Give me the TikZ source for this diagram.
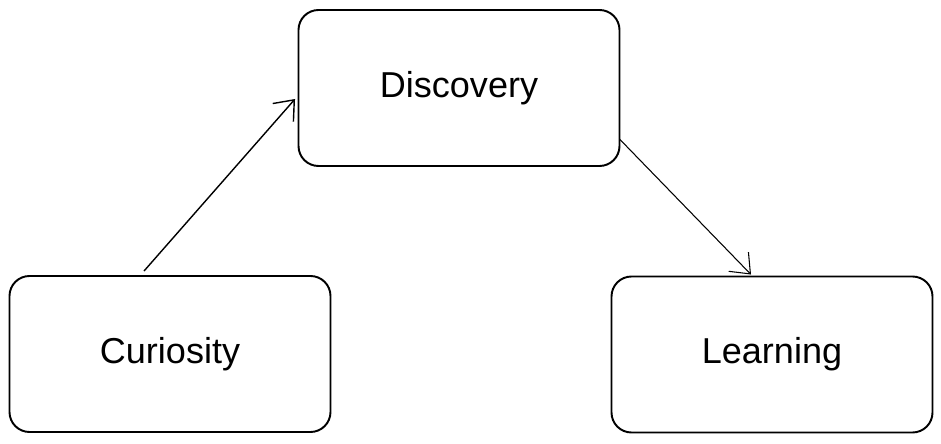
\documentclass[tikz,border=0pt]{standalone}
\usepackage{fontspec}
\setmainfont{Liberation Sans}
\usetikzlibrary{calc}
\usetikzlibrary{positioning}
\usetikzlibrary{arrows.meta}
\tikzstyle{ideanode} = [draw, line width=1.1pt, rounded corners=0.4cm, minimum width=6.42cm, minimum height=3.12cm, align=center, font=\fontsize{20.5}{24}\selectfont]
\tikzstyle{flow} = [-{Straight Barb[length=3.4mm, width=5.5mm]}, line width=0.6pt]

\begin{document}
\begin{tikzpicture}
    \useasboundingbox (0,0) rectangle (18.82,8.86);
    \node[ideanode] (disc) at (9.18,7.1) {Discovery};
    \node[ideanode] (curio) at ($(disc)+(-5.78,-5.32)$) {Curiosity};
    \node[ideanode] (learn) at ($(disc)+(6.26,-5.33)$) {Learning};
    
    \draw[flow, line width=0.8pt] ($(curio.north)+(-0.52,0.08)$) -- ($(disc.west)+(-0.05,-0.22)$);
    \draw[flow] ($(disc.east)+(-0.02,-1.02)$) -- ($(learn.north)+(-0.42,0.02)$);
\end{tikzpicture}
\end{document}
